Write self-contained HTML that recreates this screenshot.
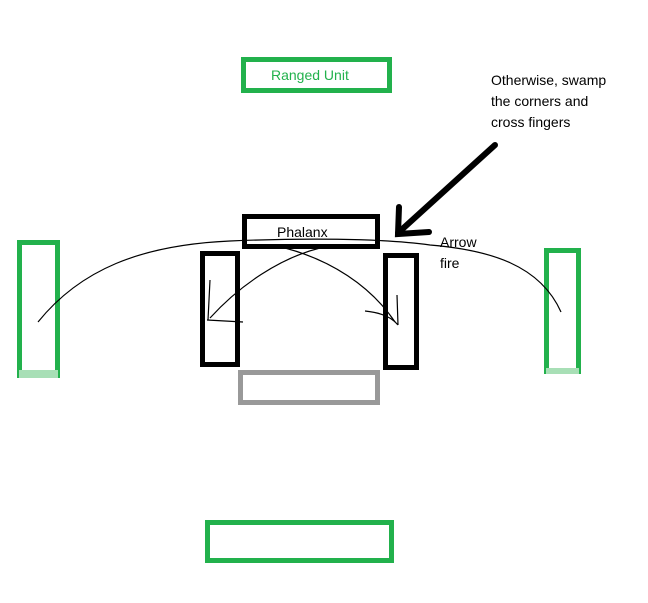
<!DOCTYPE html>
<html><head><style>
body{margin:0;background:#fff;width:648px;height:603px;overflow:hidden;font-family:"Liberation Sans",sans-serif}
svg{position:absolute;left:0;top:0}
</style></head><body>
<svg width="648" height="603" viewBox="0 0 648 603">
<g fill="none" stroke-width="5">
<rect x="243.5" y="59.5" width="146" height="31" stroke="#22b14c"/>
<rect x="19.5" y="242.5" width="38" height="133" stroke="#22b14c"/>
<rect x="546.5" y="250.5" width="32" height="121" stroke="#22b14c"/>
<rect x="207.5" y="522.5" width="184" height="38" stroke="#22b14c"/>
<rect x="244.5" y="216.5" width="133" height="30" stroke="#000"/>
<rect x="202.5" y="253.5" width="35" height="111" stroke="#000"/>
<rect x="385.5" y="255.5" width="31" height="112" stroke="#000"/>
<rect x="240.5" y="372.5" width="137" height="30" stroke="#999"/>
</g>
<rect x="19" y="370" width="39" height="8" fill="#a8dfb6"/>
<rect x="546" y="368" width="33" height="6" fill="#a8dfb6"/>
<g fill="none" stroke="#000" stroke-width="1.2">
<path d="M38,322 C80,270 140,245 230,241 C300,238 380,238 430,245 C490,250 540,265 561,312"/>
<path d="M210,318 C240,285 280,258 320,248"/>
<path d="M395,322 C370,285 330,260 285,248"/>
<path d="M208,320 L210,280 M207,320 L243,322"/>
<path d="M398,325 L397,295 M398,325 C390,315 375,312 365,311"/>
</g>
<g fill="none" stroke="#000" stroke-width="6" stroke-linecap="round">
<path d="M495,145 L398,233"/>
<path d="M399,207 L398,234 L429,232"/>
</g>
<g font-size="14" fill="#000">
<text x="491" y="85">Otherwise, swamp</text>
<text x="491" y="106">the corners and</text>
<text x="491" y="127">cross fingers</text>
<text x="440" y="247">Arrow</text>
<text x="440" y="268">fire</text>
<text x="277" y="237">Phalanx</text>
<text x="271" y="80" fill="#22b14c">Ranged Unit</text>
</g>
</svg>
</body></html>
